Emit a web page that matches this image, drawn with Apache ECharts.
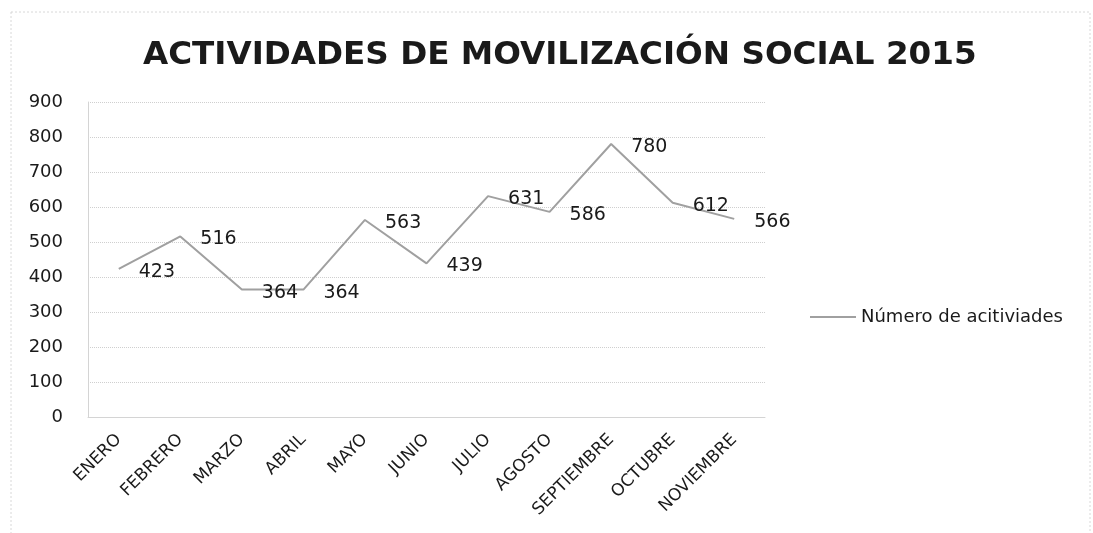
<!DOCTYPE html>
<html>
<head>
<meta charset="utf-8">
<script src="https://cdn.jsdelivr.net/npm/echarts@6/dist/echarts.min.js"></script>
<style>
  html, body { margin: 0; padding: 0; background: #fff; }
  #chart { width: 1093px; height: 533px; }
</style>
</head>
<body>
<div id="chart"></div>
<script>
// datos
const meses = ['ENERO', 'FEBRERO', 'MARZO', 'ABRIL', 'MAYO', 'JUNIO', 'JULIO', 'AGOSTO', 'SEPTIEMBRE', 'OCTUBRE', 'NOVIEMBRE'];
const actividades = [423, 516, 364, 364, 563, 439, 631, 586, 780, 612, 566];
const nombreSerie = 'Número de acitiviades';
const titulo = 'ACTIVIDADES DE MOVILIZACIÓN SOCIAL 2015';

const chart = echarts.init(document.getElementById('chart'));
const fuente = '"DejaVu Sans", "Open Sans", sans-serif';

chart.setOption({
    animation: false,
    textStyle: { fontFamily: fuente },
    title: {
        text: titulo,
        left: 138,
        top: 34,
        textStyle: { fontFamily: fuente, fontSize: 32.6, fontWeight: 'bold', color: '#1a1a1a' }
    },
    legend: {
        data: [nombreSerie],
        left: 805,
        top: 303,
        itemWidth: 46,
        itemHeight: 2,
        itemGap: 6,
        icon: 'rect',
        textStyle: { fontSize: 18, color: '#1a1a1a', fontFamily: fuente }
    },
    grid: { left: 88, right: 328, top: 102, bottom: 116 },
    xAxis: {
        type: 'category',
        data: meses,
        boundaryGap: true,
        axisLine: { show: true, lineStyle: { color: '#d4d4d4' } },
        axisTick: { show: false },
        axisLabel: { rotate: 45, fontSize: 17, color: '#1a1a1a', margin: 20, interval: 0 }
    },
    yAxis: {
        type: 'value',
        min: 0,
        max: 900,
        interval: 100,
        axisLine: { show: true, lineStyle: { color: '#d4d4d4' } },
        axisTick: { show: false },
        axisLabel: { fontSize: 18, color: '#1a1a1a', margin: 25 },
        splitLine: { lineStyle: { color: '#cfcfcf', type: 'dotted', width: 1 } }
    },
    series: [{
        name: nombreSerie,
        type: 'line',
        data: actividades,
        symbol: 'circle',
        symbolSize: 0,
        showSymbol: true,
        lineStyle: { color: '#a0a0a0', width: 2 },
        itemStyle: { color: '#a0a0a0' },
        label: {
            show: true,
            position: 'right',
            distance: 20,
            fontSize: 19,
            color: '#1a1a1a',
            offset: [0, 3]
        }
    }],
    graphic: [{
        type: 'rect',
        shape: { x: 11, y: 12, width: 1079, height: 530 },
        style: { fill: 'none', stroke: '#d8d8d8', lineWidth: 1, lineDash: [2, 2] },
        silent: true
    }]
});
</script>
</body>
</html>
